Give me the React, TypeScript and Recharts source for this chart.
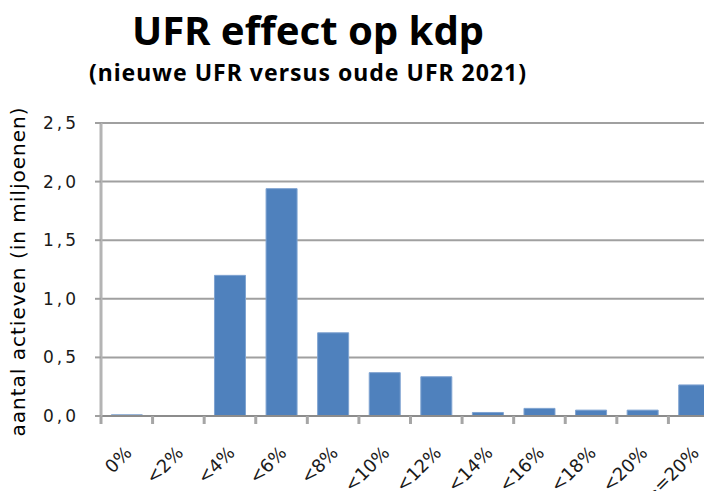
import { BarChart, Bar, XAxis, YAxis, CartesianGrid } from "recharts";

// categorieën en waarden (aantal actieven, in miljoenen)
const CATEGORIES = ["0%", "<2%", "<4%", "<6%", "<8%", "<10%", "<12%", "<14%", "<16%", "<18%", "<20%", ">=20%"];
const VALUES = [0.01, 0, 1.2, 1.94, 0.71, 0.37, 0.335, 0.03, 0.065, 0.05, 0.05, 0.265];
const Y_TICKS = [0, 0.5, 1, 1.5, 2, 2.5];

const TITLE = "UFR effect op kdp";
const SUBTITLE = "(nieuwe UFR versus oude UFR 2021)";
const Y_LABEL = "aantal actieven (in miljoenen)";

const data = CATEGORIES.map((c, i) => ({ cat: c, value: VALUES[i] }));

const CHART_W = 722;
const CHART_H = 499;
const PLOT_LEFT = 101;
const PLOT_RIGHT = 720;
const BAND = (PLOT_RIGHT - PLOT_LEFT) / CATEGORIES.length;
const FONT = "'DejaVu Sans', Verdana, sans-serif";

// Excel-achtige as: streepjes op de categoriegrenzen, labels schuin
function XTick(props: any) {
  const { x, y, payload } = props;
  const left = x - BAND / 2;
  const ax = x + 6;
  const ay = y + 38;
  return (
    <g>
      <line x1={left} y1={y} x2={left} y2={y + 8} stroke="#a6a6a6" strokeWidth={3} />
      <text
        x={ax}
        y={ay}
        textAnchor="end"
        transform={`rotate(-45, ${ax}, ${ay})`}
        fontSize={18}
        fontFamily={FONT}
        fill="#1a1a1a"
      >
        {payload.value}
      </text>
    </g>
  );
}

function YLabel(props: any) {
  const vb = props.viewBox;
  const cx = 18;
  const cy = vb.y + vb.height / 2 + 2;
  return (
    <text
      x={cx}
      y={cy}
      textAnchor="middle"
      dominantBaseline="central"
      transform={`rotate(-90, ${cx}, ${cy})`}
      fontSize={20}
      letterSpacing={1}
      fontFamily={FONT}
      fill="#000"
    >
      {Y_LABEL}
    </text>
  );
}

export default function App() {
  return (
    <div style={{ margin: -8, width: 712, height: 499, overflow: "hidden", position: "relative", background: "#fff" }}>
      <div
        style={{
          position: "absolute",
          left: 0,
          width: 616,
          top: 6,
          textAlign: "center",
          fontFamily: "'Noto Sans', sans-serif",
          fontWeight: 700,
          fontSize: 40,
          lineHeight: "48px",
          color: "#000",
        }}
      >
        {TITLE}
      </div>
      <div
        style={{
          position: "absolute",
          left: 0,
          width: 616,
          top: 58,
          textAlign: "center",
          fontFamily: "'Noto Sans', sans-serif",
          fontWeight: 700,
          fontSize: 23,
          letterSpacing: 1,
          lineHeight: "28px",
          color: "#000",
        }}
      >
        {SUBTITLE}
      </div>
      <BarChart
        width={CHART_W}
        height={CHART_H}
        data={data}
        margin={{ top: 123, right: CHART_W - PLOT_RIGHT, left: 0, bottom: 0 }}
        barCategoryGap="20%"
      >
        <CartesianGrid vertical={false} stroke="#a0a0a0" strokeWidth={2} />
        <XAxis
          dataKey="cat"
          interval={0}
          height={83}
          tickSize={0}
          tickMargin={0}
          tickLine={false}
          axisLine={{ stroke: "#8c8c8c", strokeWidth: 2 }}
          tick={<XTick />}
        />
        <YAxis
          width={PLOT_LEFT}
          domain={[0, 2.5]}
          ticks={Y_TICKS}
          interval={0}
          tickSize={6}
          tickMargin={16}
          tickLine={{ stroke: "#a0a0a0", strokeWidth: 2 }}
          axisLine={{ stroke: "#b4b4b4", strokeWidth: 3 }}
          tickFormatter={(v: number) => v.toFixed(1).replace(".", ",")}
          tick={{ fontSize: 17, fontFamily: FONT, fill: "#1a1a1a", letterSpacing: 3 }}
          label={<YLabel />}
        />
        <Bar dataKey="value" fill="#4f81bd" stroke="#7fa3d1" strokeWidth={1} isAnimationActive={false} />
      </BarChart>
    </div>
  );
}
